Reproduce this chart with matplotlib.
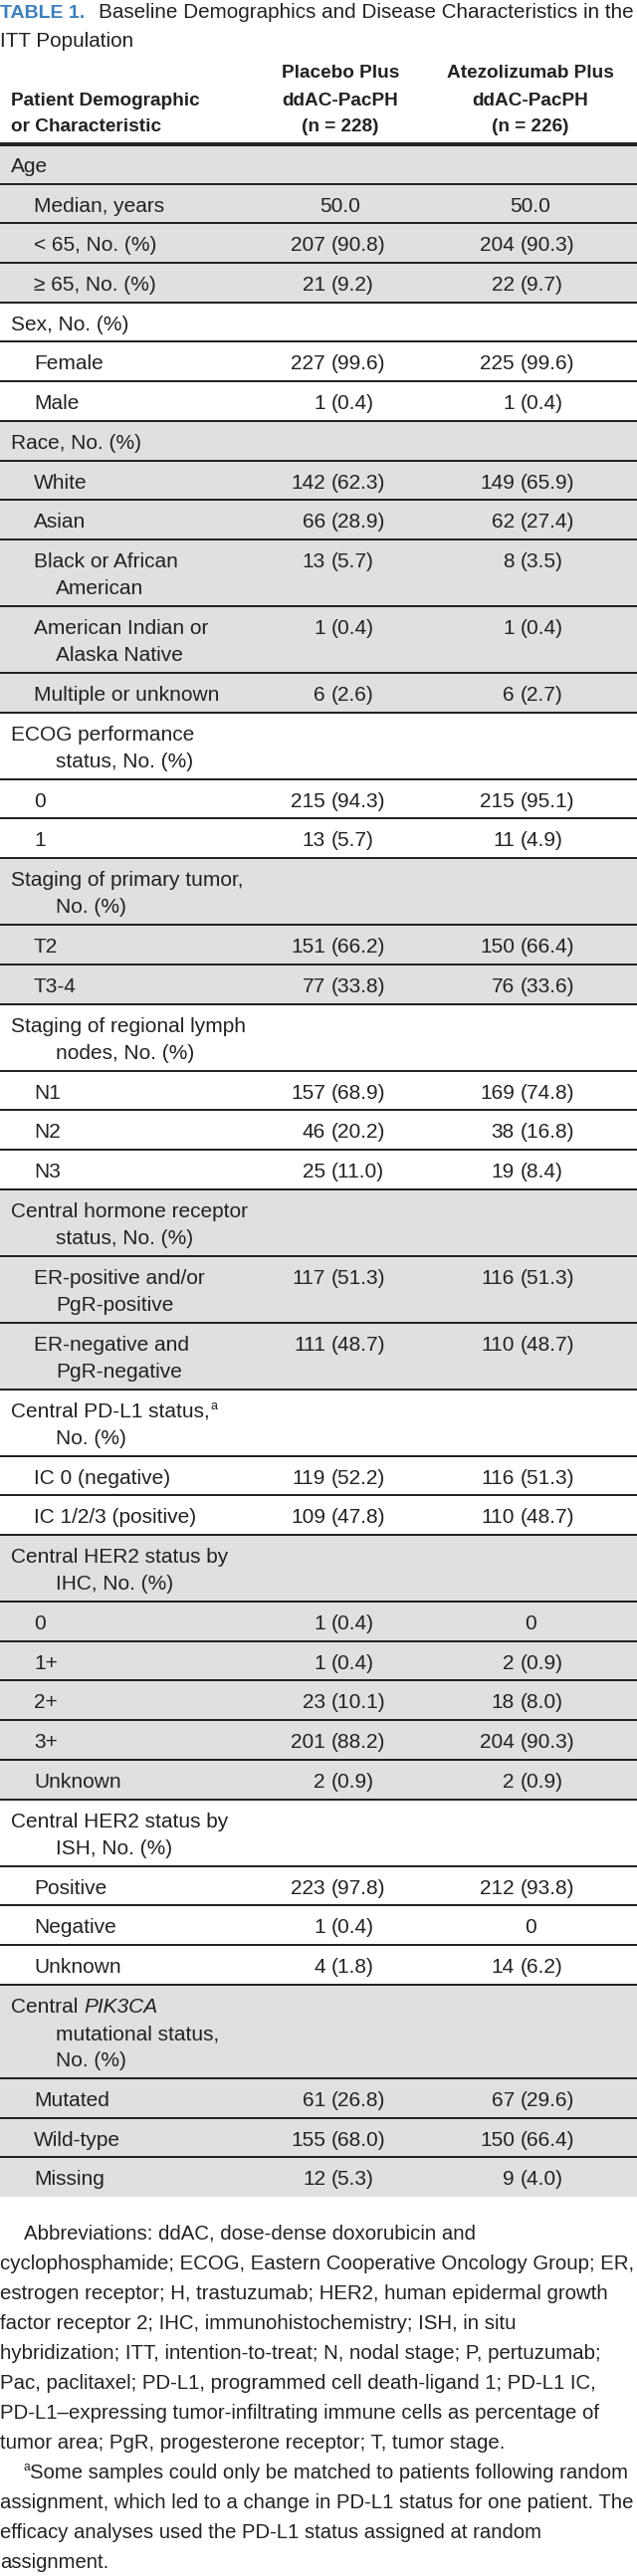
#!/usr/bin/env python3
# -*- coding: utf-8 -*-
import matplotlib
matplotlib.use("Agg")
import matplotlib.pyplot as plt

plt.rcParams['font.family'] = ['Liberation Sans', 'DejaVu Sans']

# --- data (wrapped the same way as in the printed table) ---
title_tag = "TABLE 1."
title_text = ["Baseline Demographics and Disease Characteristics in the",
              "ITT Population"]
stub_header = ["Patient Demographic", "or Characteristic"]
placebo_header = ["Placebo Plus", "ddAC-PacPH", "(n = 228)"]
atezo_header = ["Atezolizumab Plus", "ddAC-PacPH", "(n = 226)"]

labels = [
    "Age", "Median, years", "< 65, No. (%)", "≥ 65, No. (%)",
    "Sex, No. (%)", "Female", "Male",
    "Race, No. (%)", "White", "Asian", "Black or African\nAmerican",
    "American Indian or\nAlaska Native", "Multiple or unknown",
    "ECOG performance\nstatus, No. (%)", "0", "1",
    "Staging of primary tumor,\nNo. (%)", "T2", "T3-4",
    "Staging of regional lymph\nnodes, No. (%)", "N1", "N2", "N3",
    "Central hormone receptor\nstatus, No. (%)",
    "ER-positive and/or\nPgR-positive", "ER-negative and\nPgR-negative",
    "Central PD-L1 status,^a\nNo. (%)", "IC 0 (negative)", "IC 1/2/3 (positive)",
    "Central HER2 status by\nIHC, No. (%)", "0", "1+", "2+", "3+", "Unknown",
    "Central HER2 status by\nISH, No. (%)", "Positive", "Negative", "Unknown",
    "Central *PIK3CA*\nmutational status,\nNo. (%)", "Mutated", "Wild-type", "Missing",
]
placebo = [
    "", "50.0", "207 (90.8)", "21 (9.2)",
    "", "227 (99.6)", "1 (0.4)",
    "", "142 (62.3)", "66 (28.9)", "13 (5.7)", "1 (0.4)", "6 (2.6)",
    "", "215 (94.3)", "13 (5.7)",
    "", "151 (66.2)", "77 (33.8)",
    "", "157 (68.9)", "46 (20.2)", "25 (11.0)",
    "", "117 (51.3)", "111 (48.7)",
    "", "119 (52.2)", "109 (47.8)",
    "", "1 (0.4)", "1 (0.4)", "23 (10.1)", "201 (88.2)", "2 (0.9)",
    "", "223 (97.8)", "1 (0.4)", "4 (1.8)",
    "", "61 (26.8)", "155 (68.0)", "12 (5.3)",
]
atezo = [
    "", "50.0", "204 (90.3)", "22 (9.7)",
    "", "225 (99.6)", "1 (0.4)",
    "", "149 (65.9)", "62 (27.4)", "8 (3.5)", "1 (0.4)", "6 (2.7)",
    "", "215 (95.1)", "11 (4.9)",
    "", "150 (66.4)", "76 (33.6)",
    "", "169 (74.8)", "38 (16.8)", "19 (8.4)",
    "", "116 (51.3)", "110 (48.7)",
    "", "116 (51.3)", "110 (48.7)",
    "", "0", "2 (0.9)", "18 (8.0)", "204 (90.3)", "2 (0.9)",
    "", "212 (93.8)", "0", "14 (6.2)",
    "", "67 (29.6)", "150 (66.4)", "9 (4.0)",
]

footnote_abbrev = [
    "Abbreviations: ddAC, dose-dense doxorubicin and",
    "cyclophosphamide; ECOG, Eastern Cooperative Oncology Group; ER,",
    "estrogen receptor; H, trastuzumab; HER2, human epidermal growth",
    "factor receptor 2; IHC, immunohistochemistry; ISH, in situ",
    "hybridization; ITT, intention-to-treat; N, nodal stage; P, pertuzumab;",
    "Pac, paclitaxel; PD-L1, programmed cell death-ligand 1; PD-L1 IC,",
    "PD-L1\u2013expressing tumor-infiltrating immune cells as percentage of",
    "tumor area; PgR, progesterone receptor; T, tumor stage.",
]
footnote_a = [
    "^aSome samples could only be matched to patients following random",
    "assignment, which led to a change in PD-L1 status for one patient. The",
    "efficacy analyses used the PD-L1 status assigned at random",
    "assignment.",
]

# --- style ---
W, H = 640, 2588
TXT = '#222222'
GRAY = '#e1e0e1'
BLUE = '#3a80c3'
RULE = '#222222'
FS = 15
ROW1, ROWX = 39.7, 27.3

fig = plt.figure(figsize=(W / 100, H / 100), dpi=100)
ax = fig.add_axes([0, 0, 1, 1])
ax.set_xlim(0, W)
ax.set_ylim(H, 0)
ax.axis('off')
renderer = fig.canvas.get_renderer()


def width(t):
    return t.get_window_extent(renderer).width


def draw_runs(x, y, s, size=FS, color=TXT):
    # '*' toggles italic, '^' makes the next char a superscript
    italic = False
    buf = ""
    i = 0
    segs = []
    while i < len(s):
        c = s[i]
        if c == '*':
            segs.append((buf, italic, False))
            buf = ""
            italic = not italic
        elif c == '^':
            segs.append((buf, italic, False))
            buf = ""
            segs.append((s[i + 1], False, True))
            i += 1
        else:
            buf += c
        i += 1
    segs.append((buf, italic, False))
    for txt, it, sup in segs:
        if not txt:
            continue
        if sup:
            t = ax.text(x, y - size * 0.55, txt, fontsize=size * 0.6, color=color,
                        va='baseline', ha='left')
        else:
            t = ax.text(x, y, txt, fontsize=size, color=color, va='baseline',
                        ha='left', style='italic' if it else 'normal')
        x += width(t)
    return x


def fit_size(lines, maxw, size=FS):
    best = size
    for ln in lines:
        t = ax.text(0, -100, ln.replace('^a', 'a'), fontsize=size)
        w = width(t)
        t.remove()
        if w > maxw:
            best = min(best, size * maxw / w)
    return best


# --- title ---
ax.text(0, 18.3, title_tag, fontsize=14, fontweight='bold', color=BLUE,
        va='baseline', ha='left')
tsize = fit_size(title_text[:1], 538)
ax.text(99, 18.3, title_text[0], fontsize=tsize, color=TXT, va='baseline', ha='left')
ax.text(0, 46.7, title_text[1], fontsize=tsize, color=TXT, va='baseline', ha='left')

# --- column headers ---
col_c = [342, 533]
num_r = [327, 517]
hdr_base = [78.5, 105.5, 132.5]
for k, ln in enumerate(stub_header):
    ax.text(11, hdr_base[k + 1], ln, fontsize=13.7, fontweight='bold', color=TXT,
            va='baseline', ha='left')
for hdr, cx in zip([placebo_header, atezo_header], col_c):
    for k, ln in enumerate(hdr):
        ax.text(cx, hdr_base[k], ln, fontsize=13.7, fontweight='bold', color=TXT,
                va='baseline', ha='center')

# --- body ---
top = 145.0
section = -1
tops, heights = [], []
for lab in labels:
    n = lab.count('\n') + 1
    h = ROW1 + ROWX * (n - 1)
    tops.append(round(top))
    top += h
tops.append(round(top))
heights = [b - a for a, b in zip(tops[:-1], tops[1:])]
tops = tops[:-1]

colors = []
for lab, v in zip(labels, placebo):
    if v == "":
        section += 1
    colors.append(GRAY if section % 2 == 0 else 'white')

ax.barh(tops, W, height=heights, left=0, align='edge', color=colors,
        edgecolor='none', zorder=0)
ax.hlines(tops[1:], 0, W, colors=RULE, linewidth=1.44, zorder=1)
ax.hlines([145], 0, W, colors=RULE, linewidth=2.88, zorder=1)


def draw_value(k, v, y):
    if v == "":
        return
    if '(' in v:
        num, pct = v.split(' ', 1)
        ax.text(num_r[k], y, num, fontsize=FS, color=TXT, va='baseline', ha='right')
        ax.text(num_r[k] + 6, y, pct, fontsize=FS, color=TXT, va='baseline', ha='left')
    else:
        ax.text(col_c[k], y, v, fontsize=FS, color=TXT, va='baseline', ha='center')


for lab, p, a, t0 in zip(labels, placebo, atezo, tops):
    lines = lab.split('\n')
    x0 = 11.4 if p == "" else 34
    for j, ln in enumerate(lines):
        draw_runs(x0 if j == 0 else 56, t0 + 27.8 + ROWX * j, ln)
    draw_value(0, p, t0 + 27.8)
    draw_value(1, a, t0 + 27.8)

# --- footnotes ---
fsz1 = fit_size(footnote_abbrev, 638)
fsz2 = fit_size(footnote_a[1:], 639)
fsz2 = min(fsz2, fit_size(footnote_a[:1], 614))
y = 2250
for j, ln in enumerate(footnote_abbrev):
    draw_runs(23.7 if j == 0 else 0, y, ln, size=fsz1)
    y += 30
for j, ln in enumerate(footnote_a):
    draw_runs(23.7 if j == 0 else 0, y, ln, size=fsz2)
    y += 30

fig.savefig("out.png", dpi=100)
